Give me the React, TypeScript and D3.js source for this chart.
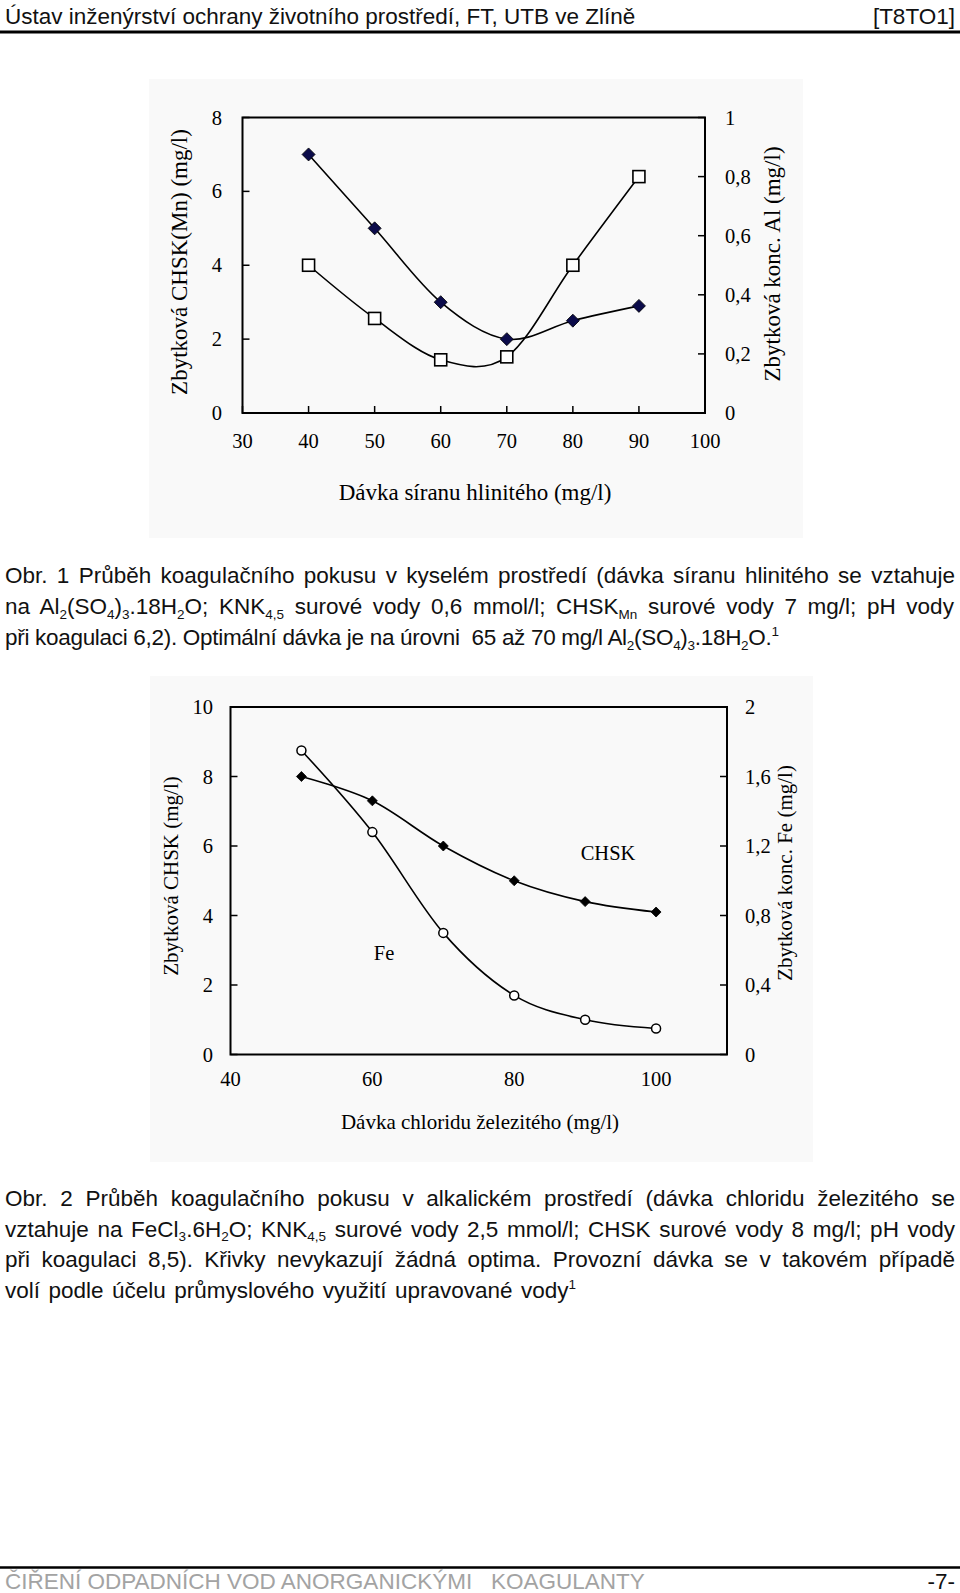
import React from 'react';
import * as d3 from 'd3';

// ---------- Chart 1 data (acid environment, aluminium sulphate) ----------
const doseAl = [40, 50, 60, 70, 80, 90];
const chskMn = [7, 5, 3, 2, 2.5, 2.9];
const alConc = [0.5, 0.32, 0.18, 0.19, 0.5, 0.8];
const c1XTicks = [30, 40, 50, 60, 70, 80, 90, 100];
const c1LeftTicks = [0, 2, 4, 6, 8];
const c1RightTicks = [0, 0.2, 0.4, 0.6, 0.8, 1];

// ---------- Chart 2 data (alkaline environment, ferric chloride) ----------
const doseFe = [50, 60, 70, 80, 90, 100];
const chsk = [8, 7.3, 6, 5, 4.4, 4.1];
const feConc = [1.75, 1.28, 0.7, 0.34, 0.2, 0.15];
const c2XTicks = [40, 60, 80, 100];
const c2LeftTicks = [0, 2, 4, 6, 8, 10];
const c2RightTicks = [0, 0.4, 0.8, 1.2, 1.6, 2];

// ---------- Texts ----------
const headerLeft = 'Ústav inženýrství ochrany životního prostředí, FT, UTB ve Zlíně';
const headerRight = '[T8TO1]';
const footerLeft = 'ČIŘENÍ ODPADNÍCH VOD ANORGANICKÝMI   KOAGULANTY';
const footerRight = '-7-';
const caption1 = [
  { s: 'Obr. 1 Průběh koagulačního pokusu v kyselém prostředí (dávka síranu hlinitého se vztahuje', w: 950 },
  { s: 'na Al_{2}(SO_{4})_{3}.18H_{2}O; KNK_{4,5} surové vody 0,6 mmol/l; CHSK_{Mn} surové vody 7 mg/l; pH vody', w: 950 },
  { s: 'při koagulaci 6,2). Optimální dávka je na úrovni  65 až 70 mg/l Al_{2}(SO_{4})_{3}.18H_{2}O.^{1}', w: 0 },
];
const caption2 = [
  { s: 'Obr. 2 Průběh koagulačního pokusu v alkalickém prostředí (dávka chloridu železitého se', w: 950 },
  { s: 'vztahuje na FeCl_{3}.6H_{2}O; KNK_{4,5} surové vody 2,5 mmol/l; CHSK surové vody 8 mg/l; pH vody', w: 950 },
  { s: 'při koagulaci 8,5). Křivky nevykazují žádná optima. Provozní dávka se v takovém případě', w: 950 },
  { s: 'volí podle účelu průmyslového využití upravované vody^{1}', w: 571 },
];

const SANS = '"Liberation Sans", Arial, sans-serif';
const SERIF = '"Liberation Serif", "Times New Roman", serif';
const CAP_SIZE = 22.5;
const SUB_RATIO = 0.6;

type Seg = { t: string; k: 'n' | 'sub' | 'sup' };
function parse(s: string): Seg[] {
  const out: Seg[] = [];
  const re = /([_^])\{([^}]*)\}/g;
  let last = 0;
  let m: RegExpExecArray | null;
  while ((m = re.exec(s))) {
    if (m.index > last) out.push({ t: s.slice(last, m.index), k: 'n' });
    out.push({ t: m[2], k: m[1] === '_' ? 'sub' : 'sup' });
    last = m.index + m[0].length;
  }
  if (last < s.length) out.push({ t: s.slice(last), k: 'n' });
  return out;
}

let ctx: CanvasRenderingContext2D | null = null;
function measure(segs: Seg[], size: number) {
  if (!ctx) ctx = document.createElement('canvas').getContext('2d');
  let w = 0;
  let spaces = 0;
  segs.forEach((g) => {
    const fs = g.k === 'n' ? size : size * SUB_RATIO;
    ctx!.font = `${fs}px ${SANS}`;
    w += ctx!.measureText(g.t).width;
    if (g.k === 'n') spaces += (g.t.match(/ /g) || []).length;
  });
  return { w, spaces };
}

function RichLine({ s, x, y, width, size, fill = '#111', condense = 1 }: any) {
  const segs = parse(s);
  let ws = 0;
  if (width) {
    const { w, spaces } = measure(segs, size);
    ws = spaces > 0 ? (width - w) / spaces : 0;
  }
  let cur = 0;
  const parts = segs.map((g, i) => {
    const target = g.k === 'sub' ? 4.5 : g.k === 'sup' ? -9 : 0;
    const dy = target - cur;
    cur = target;
    return (
      <tspan key={i} dy={dy} fontSize={g.k === 'n' ? size : size * SUB_RATIO}>
        {g.t}
      </tspan>
    );
  });
  return (
    <text x={x} y={y} fontFamily={SANS} fontSize={size} fill={fill} wordSpacing={ws}
      letterSpacing={condense !== 1 ? -0.3 : 0} style={{ whiteSpace: 'pre' }}>
      {parts}
    </text>
  );
}

const fmtComma = (d: number) => (Number.isInteger(d) ? String(d) : String(d).replace('.', ','));

function DualChart(props: any) {
  const {
    bg, frame, xDomain, xTicks, xTickMarks, leftDomain, leftTicks, rightDomain, rightTicks,
    leftLabelX, rightLabelX, xLabelY, xTitle, xTitleX, xTitleY, leftTitle, leftTitleX, leftTitleY,
    rightTitle, rightTitleX, rightTitleY, series, annotations, tickLen, tickFs, titleFs,
  } = props;
  const x = d3.scaleLinear().domain(xDomain).range([frame.l, frame.r]);
  const yL = d3.scaleLinear().domain(leftDomain).range([frame.b, frame.t]);
  const yR = d3.scaleLinear().domain(rightDomain).range([frame.b, frame.t]);
  const fs = tickFs;
  return (
    <g>
      <rect x={bg.x} y={bg.y} width={bg.w} height={bg.h} fill="#f9f9f9" />
      {series.map((s: any, i: number) => {
        const y = s.axis === 'left' ? yL : yR;
        const pts: [number, number][] = s.xs.map((v: number, j: number) => [x(v), y(s.ys[j])]);
        const line = d3.line().curve(d3.curveCatmullRom.alpha(0))(pts) || '';
        return <path key={'l' + i} d={line} fill="none" stroke="#000" strokeWidth={1.6} />;
      })}
      {series.map((s: any, i: number) => {
        const y = s.axis === 'left' ? yL : yR;
        return (
          <g key={'m' + i}>
            {s.xs.map((v: number, j: number) => {
              const cx = x(v);
              const cy = y(s.ys[j]);
              if (s.marker === 'diamond') {
                const r = s.size;
                return (
                  <path key={j} d={`M${cx},${cy - r}L${cx + r},${cy}L${cx},${cy + r}L${cx - r},${cy}Z`}
                    fill={s.fill} stroke="#000" strokeWidth={0.8} />
                );
              }
              if (s.marker === 'square') {
                const r = s.size;
                return <rect key={j} x={cx - r} y={cy - r} width={2 * r} height={2 * r} fill="#fff" stroke="#000" strokeWidth={1.6} />;
              }
              return <circle key={j} cx={cx} cy={cy} r={s.size} fill="#fff" stroke="#000" strokeWidth={1.5} />;
            })}
          </g>
        );
      })}
      <rect x={frame.l} y={frame.t} width={frame.r - frame.l} height={frame.b - frame.t} fill="none" stroke="#000" strokeWidth={2} />
      {leftTicks.map((t: number) => (
        <g key={'lt' + t}>
          <line x1={frame.l} x2={frame.l + tickLen} y1={yL(t)} y2={yL(t)} stroke="#000" strokeWidth={1.5} />
          <text x={leftLabelX} y={yL(t) + 7} textAnchor="end" fontFamily={SERIF} fontSize={fs} fill="#000">{t}</text>
        </g>
      ))}
      {rightTicks.map((t: number) => (
        <g key={'rt' + t}>
          <line x1={frame.r} x2={frame.r - tickLen} y1={yR(t)} y2={yR(t)} stroke="#000" strokeWidth={1.5} />
          <text x={rightLabelX} y={yR(t) + 7} textAnchor="start" fontFamily={SERIF} fontSize={fs} fill="#000">{fmtComma(t)}</text>
        </g>
      ))}
      {xTicks.map((t: number) => (
        <g key={'xt' + t}>
          {xTickMarks && <line x1={x(t)} x2={x(t)} y1={frame.b} y2={frame.b - tickLen} stroke="#000" strokeWidth={1.5} />}
          <text x={x(t)} y={xLabelY} textAnchor="middle" fontFamily={SERIF} fontSize={fs} fill="#000">{t}</text>
        </g>
      ))}
      <text x={xTitleX} y={xTitleY} textAnchor="middle" fontFamily={SERIF} fontSize={titleFs} fill="#000">{xTitle}</text>
      <text transform={`translate(${leftTitleX},${leftTitleY}) rotate(-90)`} textAnchor="middle" fontFamily={SERIF} fontSize={titleFs} fill="#000">{leftTitle}</text>
      <text transform={`translate(${rightTitleX},${rightTitleY}) rotate(-90)`} textAnchor="middle" fontFamily={SERIF} fontSize={titleFs} fill="#000">{rightTitle}</text>
      {annotations.map((a: any) => (
        <text key={a.t} x={a.x} y={a.y} textAnchor="middle" fontFamily={SERIF} fontSize={fs} fill="#000">{a.t}</text>
      ))}
    </g>
  );
}

export default function App() {
  return (
    <svg width={960} height={1593} style={{ position: 'absolute', left: 0, top: 0, background: '#fff' }}>
      <rect width={960} height={1593} fill="#fff" />
      <RichLine s={headerLeft} x={5} y={23.5} width={0} size={CAP_SIZE} />
      <text x={955} y={23.5} textAnchor="end" fontFamily={SANS} fontSize={CAP_SIZE} fill="#111">{headerRight}</text>
      <line x1={0} x2={960} y1={32} y2={32} stroke="#000" strokeWidth={3} />

      <DualChart
        bg={{ x: 149, y: 79, w: 654, h: 459 }}
        frame={{ l: 242.5, r: 705, t: 117.5, b: 413 }}
        xDomain={[30, 100]} xTicks={c1XTicks} xTickMarks={true}
        leftDomain={[0, 8]} leftTicks={c1LeftTicks}
        rightDomain={[0, 1]} rightTicks={c1RightTicks}
        tickLen={7} tickFs={20.5} titleFs={23}
        leftLabelX={222} rightLabelX={725} xLabelY={448}
        xTitle="Dávka síranu hlinitého (mg/l)" xTitleX={475} xTitleY={500}
        leftTitle="Zbytková CHSK(Mn) (mg/l)" leftTitleX={187} leftTitleY={262}
        rightTitle="Zbytková konc. Al (mg/l)" rightTitleX={780} rightTitleY={264}
        series={[
          { xs: doseAl, ys: chskMn, axis: 'left', marker: 'diamond', size: 6.5, fill: '#0b0b4a' },
          { xs: doseAl, ys: alConc, axis: 'right', marker: 'square', size: 6 },
        ]}
        annotations={[]}
      />

      {caption1.map((l, i) => (
        <RichLine key={i} s={l.s} x={5} y={583 + i * 31} width={l.w} size={CAP_SIZE} condense={l.w ? 1 : 0.98} />
      ))}

      <DualChart
        bg={{ x: 150, y: 676, w: 663, h: 486 }}
        frame={{ l: 230.5, r: 727, t: 707, b: 1054.5 }}
        xDomain={[40, 110]} xTicks={c2XTicks} xTickMarks={false}
        leftDomain={[0, 10]} leftTicks={c2LeftTicks}
        rightDomain={[0, 2]} rightTicks={c2RightTicks}
        tickLen={7} tickFs={20.5} titleFs={21}
        leftLabelX={213} rightLabelX={745} xLabelY={1086}
        xTitle="Dávka chloridu železitého (mg/l)" xTitleX={480} xTitleY={1129}
        leftTitle="Zbytková CHSK (mg/l)" leftTitleX={178} leftTitleY={876}
        rightTitle="Zbytková konc. Fe (mg/l)" rightTitleX={792} rightTitleY={873}
        series={[
          { xs: doseFe, ys: chsk, axis: 'left', marker: 'diamond', size: 5, fill: '#000' },
          { xs: doseFe, ys: feConc, axis: 'right', marker: 'circle', size: 4.5 },
        ]}
        annotations={[
          { t: 'CHSK', x: 608, y: 860 },
          { t: 'Fe', x: 384, y: 960 },
        ]}
      />

      {caption2.map((l, i) => (
        <RichLine key={i} s={l.s} x={5} y={1206 + i * 30.5} width={l.w} size={CAP_SIZE} />
      ))}

      <line x1={0} x2={960} y1={1567.5} y2={1567.5} stroke="#000" strokeWidth={2.5} />
      <RichLine s={footerLeft} x={5} y={1589} width={0} size={CAP_SIZE} fill="#a3a3a3" />
      <text x={955} y={1589} textAnchor="end" fontFamily={SANS} fontSize={CAP_SIZE} fill="#111">{footerRight}</text>
    </svg>
  );
}
